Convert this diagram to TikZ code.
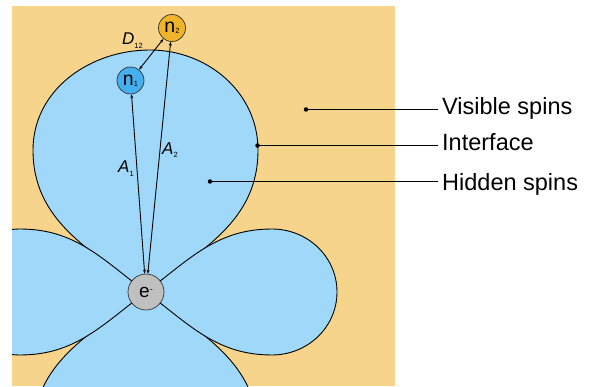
\documentclass[tikz,border=0pt]{standalone}
\usepackage{fontspec}
\setmainfont{Liberation Sans}
\usetikzlibrary{arrows.meta}
\definecolor{bgorange}{RGB}{246,212,139}
\definecolor{lobeblue}{RGB}{160,216,250}
\definecolor{nblue}{RGB}{70,176,238}
\definecolor{ngold}{RGB}{240,180,42}
\definecolor{egray}{RGB}{192,192,192}
\newcommand{\mysub}[2]{\raisebox{#1}{\fontsize{7.5}{7.5}\selectfont\upshape #2}}
\begin{document}
\begin{tikzpicture}[x=1pt,y=1pt,
  lobe/.style={fill=lobeblue, draw=black, line width=0.9pt},
  spin/.style={circle, draw=black!80, line width=0.7pt, inner sep=0pt, minimum size=27pt, font=\fontsize{19.5}{19.5}\selectfont},
  conn/.style={<->, >={Stealth[length=4pt,width=3pt]}, line width=0.9pt},
  lbl/.style={font=\fontsize{23.5}{28}\selectfont, anchor=base west, inner ysep=0pt, inner xsep=4.5pt},
  lead/.style={line width=1.4pt},
  dot/.style={circle, fill=black, inner sep=0pt, minimum size=4.5pt},
  sym/.style={font=\fontsize{17}{17}\selectfont\itshape, inner sep=0pt, anchor=base west}
]
\useasboundingbox (0,0) rectangle (600,386);
\fill[bgorange] (12,0) rectangle (395,380);
\begin{scope}
\clip (12,0) rectangle (395,380);
\coordinate (O) at (146,94);
% top lobe
\draw[lobe] (O) to[out=143,in=-90] (33,236) to[out=90,in=180] (150,336) to[out=0,in=90] (258,236) to[out=-90,in=37] (O);
% bottom lobe
\draw[lobe] (O) to[out=-143,in=90] (33,-48) to[out=-90,in=180] (150,-148) to[out=0,in=-90] (258,-48) to[out=90,in=-37] (O);
% right lobe
\draw[lobe] (O) to[out=37,in=180] (272,157) to[out=0,in=90] (337,94) to[out=-90,in=0] (272,31) to[out=180,in=-37] (O);
% left lobe
\draw[lobe] (O) to[out=143,in=0] (20,157) to[out=180,in=90] (-45,94) to[out=-90,in=180] (20,31) to[out=0,in=-143] (O);
\end{scope}
\node[spin, fill=egray, minimum size=36pt, font=\fontsize{19}{19}\selectfont] (e) at (146,94) {e\raisebox{5pt}{\fontsize{9}{9}\selectfont -}};
\node[spin, fill=nblue] (n1) at (130.5,305.5) {n\mysub{-1pt}{1}};
\node[spin, fill=ngold] (n2) at (172,358) {n\mysub{-1pt}{2}};
\draw[conn] (n1) -- (e);
\draw[conn] (n2) -- (e);
\draw[conn] (n1) -- (n2);
\node[sym] (d12) at (122,341.7) {D\mysub{-4pt}{12}};
\node[sym] (a1) at (118,213.3) {A\mysub{-3.5pt}{1}};
\node[sym] (a2) at (162,231) {A\mysub{-3pt}{2}};
\node[dot] (vdot) at (306,276.5) {};
\node[dot] (idot) at (257.5,240.5) {};
\node[dot] (hdot) at (210,204.5) {};
\node[lbl] (vis) at (437.5,271) {Visible spins};
\node[lbl] (int) at (437.5,235.3) {Interface};
\node[lbl] (hid) at (437.5,195.3) {Hidden spins};
\draw[lead] (vdot.center) -- (vdot.center -| vis.west);
\draw[lead] (idot.center) -- (idot.center -| int.west);
\draw[lead] (hdot.center) -- (hdot.center -| hid.west);
\end{tikzpicture}
\end{document}
